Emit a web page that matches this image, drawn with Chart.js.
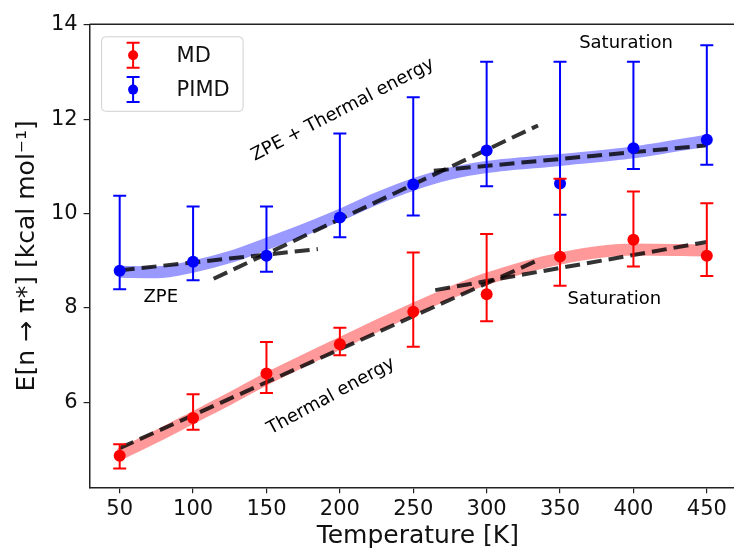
<!DOCTYPE html>
<html>
<head>
<meta charset="utf-8">
<script src="https://cdn.jsdelivr.net/npm/chart.js@4"></script>
<style>
html,body{margin:0;padding:0;overflow:hidden;background:#fff}
canvas{display:block}
</style>
</head>
<body>
<canvas id="myChart" width="746" height="553"></canvas>
<script>
// --- data ---
let temps=[50,100,150,200,250,300,350,400,450];
let md_E=[4.87,5.67,6.61,7.23,7.92,8.29,9.09,9.45,9.11];
let md_lo=[4.60,5.42,6.20,7.00,7.18,7.72,8.47,8.88,8.68];
let md_hi=[5.11,6.17,7.28,7.58,9.18,9.57,10.74,10.47,10.22];
let pimd_E=[8.79,8.98,9.11,9.92,10.62,11.34,10.64,11.39,11.57];
let pimd_lo=[8.40,8.59,8.77,9.50,9.96,10.58,9.98,10.95,11.04];
let pimd_hi=[10.38,10.15,10.15,11.70,12.47,13.22,13.22,13.22,13.57];

// smooth fits (the wide pale bands)
let fitT=[50,75,100,125,150,175,200,225,250,275,300,350,400,450];
let md_fit=[4.90,5.28,5.68,6.08,6.50,6.88,7.25,7.62,7.98,8.32,8.62,9.05,9.24,9.22];
let pimd_fit=[8.77,8.76,8.88,9.08,9.36,9.65,9.97,10.32,10.62,10.85,10.99,11.14,11.30,11.55];

// dashed regime lines [T, E] pairs
let zpe_line=[[50,8.80],[185,9.25]];
let zpeThermal_line=[[114,8.62],[335,11.87]];
let satUp_line=[[264,10.91],[450,11.45]];
let thermal_line=[[50,5.03],[334,9.00]];
let satLow_line=[[265,8.38],[450,9.40]];

// annotations: text, T, E, angle
let notes=[
  ["ZPE",78,8.23,0],
  ["ZPE + Thermal energy",202,12.2,-27.5],
  ["Saturation",395,13.61,0],
  ["Saturation",387,8.18,0],
  ["Thermal energy",194,6.13,-28.5]
];

let xTicks=[50,100,150,200,250,300,350,400,450];
let yTicks=[6,8,10,12,14];
let legendLabels=["MD","PIMD"];
let legendColors=["#ff0000","#0000ff"];

function pts(xs,ys){ return xs.map((x,i)=>({x:x,y:ys[i]})); }
function seg(arr){ return arr.map(p=>({x:p[0],y:p[1]})); }

const FONT="'DejaVu Sans', sans-serif";

function dashed(arr){
  return {data:seg(arr),showLine:true,borderColor:"rgba(0,0,0,0.8)",borderWidth:4,
    borderDash:[15,7],pointRadius:0,fill:false,order:1};
}

// error bars drawn right before their dataset
const errorBars={id:'errorBars',beforeDatasetDraw(chart,args){
  const ds=chart.data.datasets[args.index];
  if(!ds.errLo) return;
  const xs=chart.scales.x, ys=chart.scales.y, ctx=chart.ctx;
  ctx.save();
  ctx.strokeStyle=ds.backgroundColor; ctx.lineWidth=2;
  ds.data.forEach((p,i)=>{
    const px=xs.getPixelForValue(p.x);
    const lo=ys.getPixelForValue(ds.errLo[i]), hi=ys.getPixelForValue(ds.errHi[i]);
    ctx.beginPath();
    ctx.moveTo(px,lo); ctx.lineTo(px,hi);
    ctx.moveTo(px-6.5,lo); ctx.lineTo(px+6.5,lo);
    ctx.moveTo(px-6.5,hi); ctx.lineTo(px+6.5,hi);
    ctx.stroke();
  });
  ctx.restore();
}};

// top spine, text notes and legend box
const extras={id:'extras',afterDraw(chart){
  const ctx=chart.ctx, a=chart.chartArea, xs=chart.scales.x, ys=chart.scales.y;
  ctx.save();
  ctx.strokeStyle="#222"; ctx.lineWidth=1.5;
  ctx.beginPath(); ctx.moveTo(a.left,a.top); ctx.lineTo(a.right,a.top); ctx.stroke();

  ctx.fillStyle="#000"; ctx.font="18px "+FONT; ctx.textAlign="center"; ctx.textBaseline="middle";
  notes.forEach(n=>{
    ctx.save();
    ctx.translate(xs.getPixelForValue(n[1]),ys.getPixelForValue(n[2]));
    ctx.rotate(n[3]*Math.PI/180);
    ctx.fillText(n[0],0,0);
    ctx.restore();
  });

  // legend
  const x0=a.left+12, y0=a.top+12.5, w=141.5, h=74.5;
  ctx.fillStyle="rgba(255,255,255,0.8)"; ctx.strokeStyle="#d0d0d0"; ctx.lineWidth=1;
  ctx.beginPath(); ctx.roundRect(x0,y0,w,h,4); ctx.fill(); ctx.stroke();
  legendLabels.forEach((lab,i)=>{
    const cx=x0+31.5, cy=y0+18.5+i*34.3;
    ctx.strokeStyle=legendColors[i]; ctx.fillStyle=legendColors[i]; ctx.lineWidth=2;
    ctx.beginPath();
    ctx.moveTo(cx,cy-12.5); ctx.lineTo(cx,cy+12.5);
    ctx.moveTo(cx-6.5,cy-12.5); ctx.lineTo(cx+6.5,cy-12.5);
    ctx.moveTo(cx-6.5,cy+12.5); ctx.lineTo(cx+6.5,cy+12.5);
    ctx.stroke();
    ctx.beginPath(); ctx.arc(cx,cy,5,0,Math.PI*2); ctx.fill();
    ctx.fillStyle="#111"; ctx.font="21px "+FONT; ctx.textAlign="left"; ctx.textBaseline="middle";
    ctx.fillText(lab,x0+75,cy+1);
  });
  ctx.restore();
}};

new Chart("myChart",{
  type:"scatter",
  data:{
    datasets:[
      {label:"MD",data:pts(temps,md_E),errLo:md_lo,errHi:md_hi,backgroundColor:"#ff0000",borderColor:"#ff0000",
        pointRadius:6,pointBorderWidth:0,order:0},
      {label:"PIMD",data:pts(temps,pimd_E),errLo:pimd_lo,errHi:pimd_hi,backgroundColor:"#0000ff",borderColor:"#0000ff",
        pointRadius:6,pointBorderWidth:0,order:0},
      dashed(zpe_line),dashed(zpeThermal_line),dashed(satUp_line),dashed(thermal_line),dashed(satLow_line),
      {data:pts(fitT,md_fit),showLine:true,borderColor:"rgba(255,0,0,0.4)",borderWidth:12,pointRadius:0,
        cubicInterpolationMode:"monotone",borderCapStyle:"butt",order:2},
      {data:pts(fitT,pimd_fit),showLine:true,borderColor:"rgba(0,0,255,0.4)",borderWidth:12,pointRadius:0,
        cubicInterpolationMode:"monotone",borderCapStyle:"butt",order:2}
    ]
  },
  plugins:[errorBars,extras],
  options:{
    responsive:false,
    animation:false,
    layout:{autoPadding:false,padding:{top:24.3,right:0,left:0,bottom:0}},
    plugins:{legend:{display:false},tooltip:{enabled:false}},
    scales:{
      x:{
        type:"linear",min:29.5,max:476.7,
        afterBuildTicks:s=>{s.ticks=xTicks.map(v=>({value:v}));},
        afterFit:s=>{s.height=65.7;},
        grid:{display:true,drawOnChartArea:false,drawTicks:true,tickLength:6,color:"#222",lineWidth:1.2},
        border:{display:true,color:"#222",width:1.5},
        ticks:{color:"#111",font:{family:FONT,size:21},padding:4,maxRotation:0},
        title:{display:true,text:"Temperature [K]",color:"#111",font:{family:FONT,size:25},padding:{top:0,bottom:2}}
      },
      y:{
        type:"linear",min:4.2,max:14.015,
        afterBuildTicks:s=>{s.ticks=yTicks.map(v=>({value:v}));},
        afterFit:s=>{s.width=89.6;},
        grid:{display:true,drawOnChartArea:false,drawTicks:true,tickLength:6,color:"#222",lineWidth:1.2},
        border:{display:true,color:"#222",width:1.5},
        ticks:{color:"#111",font:{family:FONT,size:21},padding:6},
        title:{display:true,text:"E[n \u2192 \u03c0*] [kcal mol\u207b\u00b9]",color:"#111",font:{family:FONT,size:25},padding:{top:12,bottom:0}}
      }
    }
  }
});
</script>
</body>
</html>
